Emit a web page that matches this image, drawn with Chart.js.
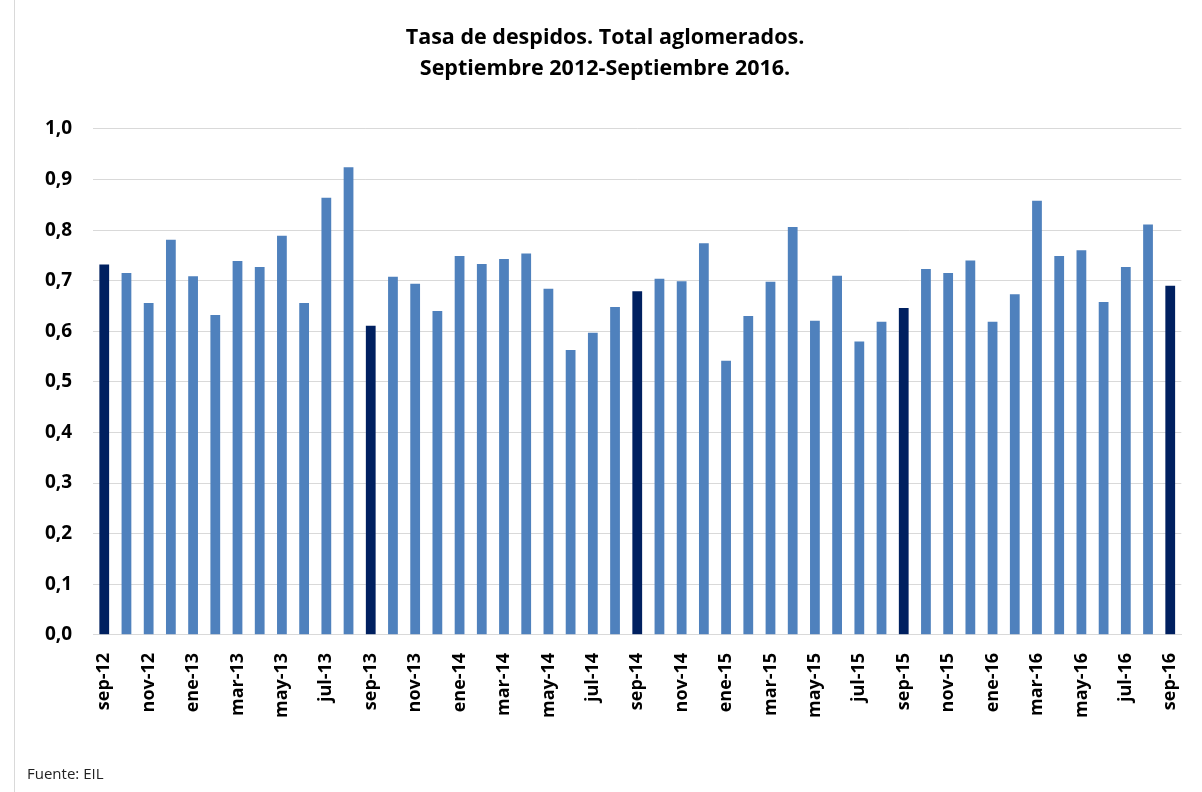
<!DOCTYPE html>
<html>
<head>
<meta charset="utf-8">
<script src="https://cdn.jsdelivr.net/npm/chart.js@4"></script>
<style>
  html, body { margin: 0; padding: 0; background: #fff; }
  #wrap { position: relative; width: 1202px; height: 792px; }
  #wrap::before { content: ""; position: absolute; left: 14px; top: 0; bottom: 0; border-left: 1px solid #d9d9d9; }
  #source { position: absolute; left: 27px; top: 763px; font: 15px "Open Sans", sans-serif; color: #222; }
</style>
</head>
<body>
<div id="wrap">
  <canvas id="chart" width="1202" height="792"></canvas>
  <div id="source">Fuente: EIL</div>
</div>
<script>
// meses sep-12 .. sep-16
const categories = [
  "sep-12", "oct-12", "nov-12", "dic-12",
  "ene-13", "feb-13", "mar-13", "abr-13", "may-13", "jun-13", "jul-13", "ago-13", "sep-13", "oct-13", "nov-13", "dic-13",
  "ene-14", "feb-14", "mar-14", "abr-14", "may-14", "jun-14", "jul-14", "ago-14", "sep-14", "oct-14", "nov-14", "dic-14",
  "ene-15", "feb-15", "mar-15", "abr-15", "may-15", "jun-15", "jul-15", "ago-15", "sep-15", "oct-15", "nov-15", "dic-15",
  "ene-16", "feb-16", "mar-16", "abr-16", "may-16", "jun-16", "jul-16", "ago-16", "sep-16"
]

const tasa = [
  0.732, 0.715, 0.656, 0.781,
  0.709, 0.632, 0.739, 0.727, 0.789, 0.656, 0.864, 0.924, 0.611, 0.708, 0.694, 0.640,
  0.749, 0.733, 0.743, 0.754, 0.684, 0.563, 0.597, 0.648, 0.679, 0.704, 0.699, 0.774,
  0.542, 0.630, 0.698, 0.806, 0.621, 0.710, 0.580, 0.619, 0.646, 0.723, 0.715, 0.740,
  0.619, 0.673, 0.858, 0.749, 0.760, 0.658, 0.727, 0.811, 0.690
]

const yTicks = ["0,0", "0,1", "0,2", "0,3", "0,4", "0,5", "0,6", "0,7", "0,8", "0,9", "1,0"]

const colors = categories.map(c => c.startsWith("sep") ? "#002060" : "#4f81bd")
const font = "'Open Sans', sans-serif"

new Chart(document.getElementById("chart"), {
  type: "bar",
  data: {
    labels: categories,
    datasets: [{
      label: "Tasa de despidos",
      data: tasa,
      backgroundColor: colors,
      barPercentage: 0.44,
      categoryPercentage: 1.0
    }]
  },
  options: {
    responsive: false,
    animation: false,
    layout: { padding: { left: 24, right: 16, top: 10, bottom: 64 } },
    plugins: {
      legend: { display: false },
      tooltip: { enabled: false },
      title: {
        display: true,
        text: ["Tasa de despidos. Total aglomerados.", "Septiembre 2012-Septiembre 2016."],
        color: "#000",
        font: { family: font, size: 21.5, weight: "bold", lineHeight: 1.44 },
        padding: { top: 12, bottom: 45 }
      }
    },
    scales: {
      x: {
        grid: { display: false },
        border: { color: "#d9d9d9" },
        ticks: {
          autoSkip: false,
          maxRotation: 90,
          minRotation: 90,
          color: "#000",
          padding: 10,
          font: { family: font, size: 18, weight: "bold" },
          callback: (v, i) => i % 2 === 0 ? categories[i] : ""
        }
      },
      y: {
        min: 0,
        max: 1.0,
        grid: { color: "#d9d9d9", drawTicks: false },
        border: { display: false },
        ticks: {
          stepSize: 0.1,
          padding: 21,
          color: "#000",
          font: { family: font, size: 19, weight: "bold" },
          callback: (v) => yTicks[Math.round(v * 10)]
        }
      }
    }
  }
})
</script>
</body>
</html>
